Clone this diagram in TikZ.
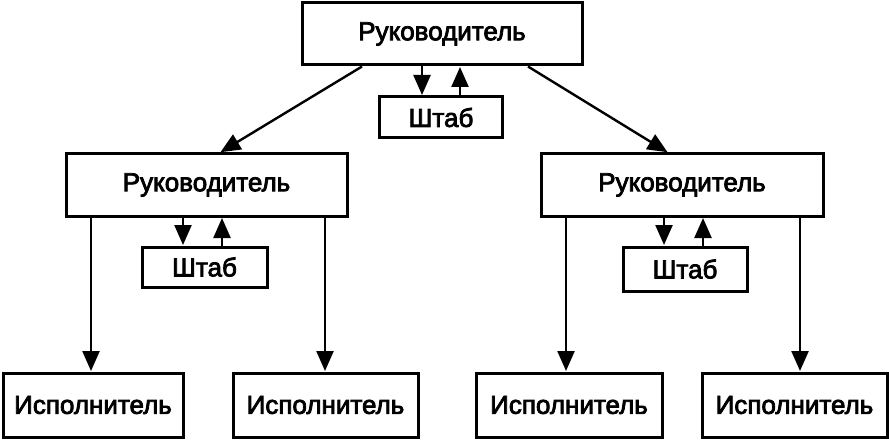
\documentclass[tikz,border=0pt]{standalone}
\usepackage{fontspec}
\setmainfont{Liberation Sans}
\newfontfamily\boxfont[FakeBold=3]{Liberation Sans}
\usepackage{tikz}
\usetikzlibrary{arrows.meta, positioning}
\tikzset{>={Triangle[length=20pt, width=17pt]}}
\tikzset{
  unit/.style={draw, line width=3pt, inner sep=0pt, font=\boxfont\fontsize{26}{30}\selectfont},
  link/.style={->, line width=2.4pt, shorten >=0.5pt}
}
\begin{document}
\begin{tikzpicture}[x=1pt, y=-1pt]
	\useasboundingbox (0,0) rectangle (889,441);
	\node [unit, minimum width=280pt, minimum height=62pt] (boss) at (442,34) {Руководитель};
	\node [unit, minimum width=123pt, minimum height=41pt] (hq) at (441,117.5) {Штаб};
	\node [unit, minimum width=281pt, minimum height=62pt] (lboss) at (206.5,185) {Руководитель};
	\node [unit, minimum width=125pt, minimum height=40pt] (lhq) at (204.5,267) {Штаб};
	\node [unit, minimum width=282pt, minimum height=62pt] (rboss) at (682,185) {Руководитель};
	\node [unit, minimum width=124pt, minimum height=44pt] (rhq) at (685,269) {Штаб};
	\node [unit, minimum width=180pt, minimum height=64pt] (w1) at (93,405) {Исполнитель};
	\node [unit, minimum width=185pt, minimum height=64pt] (w2) at (325.5,405) {Исполнитель};
	\node [unit, minimum width=186pt, minimum height=64pt] (w3) at (569,405) {Исполнитель};
	\node [unit, minimum width=185pt, minimum height=64pt] (w4) at (794.5,405) {Исполнитель};
	% top level
	\draw [link] ([xshift=-80pt]boss.south) -- ([xshift=13.5pt]lboss.north);
	\draw [link] ([xshift=86pt]boss.south) -- ([xshift=-14pt]rboss.north);
	\draw [link] ([xshift=-20pt]boss.south) -- ([xshift=-19pt]hq.north);
	\draw [link] ([xshift=19pt]hq.north) -- ([xshift=18pt]boss.south);
	% left branch
	\draw [link] ([xshift=-23.5pt]lboss.south) -- ([xshift=-21.5pt]lhq.north);
	\draw [link] ([xshift=17.5pt]lhq.north) -- ([xshift=15.5pt]lboss.south);
	\draw [link] ([xshift=-115.5pt]lboss.south) -- ([xshift=-2pt]w1.north);
	\draw [link] ([xshift=118.5pt]lboss.south) -- ([xshift=-0.5pt]w2.north);
	% right branch
	\draw [link] ([xshift=-18pt]rboss.south) -- ([xshift=-21pt]rhq.north);
	\draw [link] ([xshift=18pt]rhq.north) -- ([xshift=21pt]rboss.south);
	\draw [link] ([xshift=-116pt]rboss.south) -- ([xshift=-3pt]w3.north);
	\draw [link] ([xshift=118pt]rboss.south) -- ([xshift=5.5pt]w4.north);
\end{tikzpicture}
\end{document}
